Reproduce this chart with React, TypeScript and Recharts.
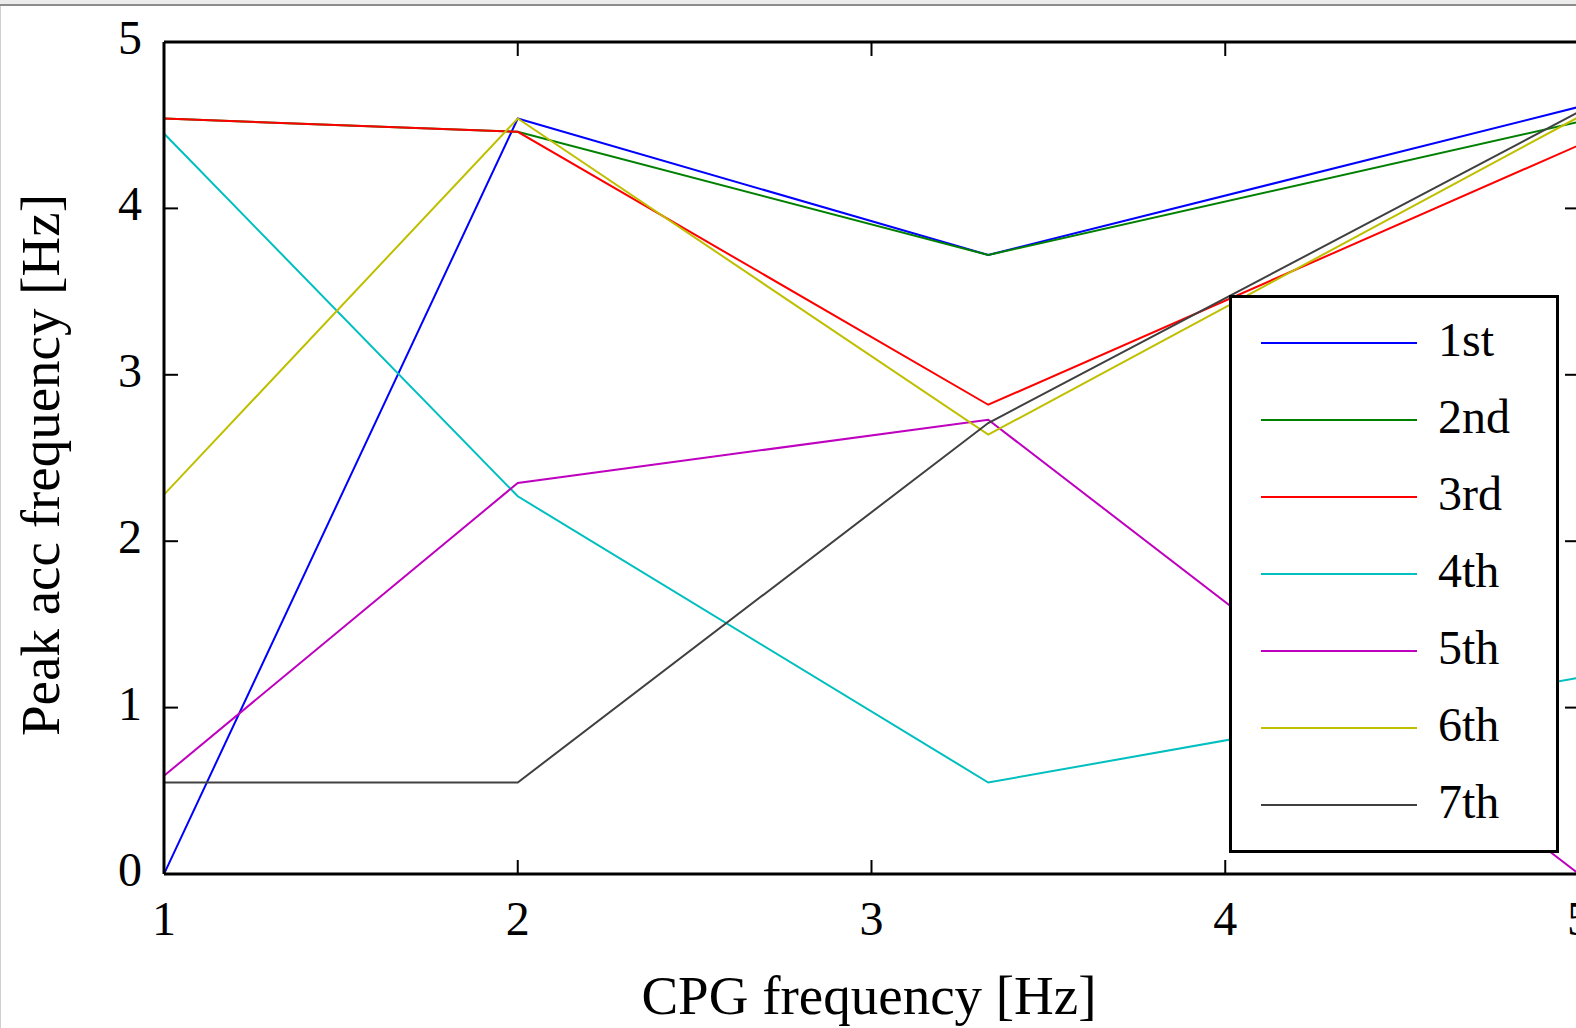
import React from 'react';
import {LineChart, Line, XAxis, YAxis, Legend} from 'recharts';

// CPG frequency (Hz) at which the peaks were measured
const cpgFreq = [1, 2, 3.33, 5];

const first = [0, 4.54, 3.72, 4.61];
const second = [4.54, 4.46, 3.72, 4.52];
const third = [4.54, 4.46, 2.82, 4.38];
const fourth = [4.45, 2.27, 0.55, 1.18];
const fifth = [0.59, 2.35, 2.73, 0];
const sixth = [2.28, 4.54, 2.64, 4.55];
const seventh = [0.55, 0.55, 2.71, 4.58];

const xTicks = [1, 2, 3, 4, 5];
const yTicks = [0, 1, 2, 3, 4, 5];

const seriesNames = ['1st', '2nd', '3rd', '4th', '5th', '6th', '7th'];
const seriesValues = [first, second, third, fourth, fifth, sixth, seventh];
const seriesColors = ['#0000ff', '#008000', '#ff0000', '#00bfbf', '#bf00bf', '#bfbf00', '#404040'];

const data = cpgFreq.map((f, i) => {
  const row: any = {f};
  seriesNames.forEach((n, k) => { row[n] = seriesValues[k][i]; });
  return row;
});

const font = '"Liberation Serif", "Times New Roman", serif';
const tickLen = 14;

const BottomTick = ({x, y, payload}: any) => (
  <g>
    <line x1={x} y1={y} x2={x} y2={y - tickLen} stroke="#000" strokeWidth={2} />
    <text x={x} y={y + 61} textAnchor="middle" fontSize={48} fontFamily={font} fill="#000">
      {payload.value}
    </text>
  </g>
);

const LeftTick = ({x, y, payload}: any) => (
  <g>
    <line x1={x} y1={y} x2={x + tickLen} y2={y} stroke="#000" strokeWidth={2} />
    <text x={x - 22} y={y + 12} textAnchor="end" fontSize={48} fontFamily={font} fill="#000">
      {payload.value}
    </text>
  </g>
);

const TopTick = ({x, y}: any) => (
  <line x1={x} y1={y} x2={x} y2={y + tickLen} stroke="#000" strokeWidth={2} />
);

const RightTick = ({x, y}: any) => (
  <line x1={x} y1={y} x2={x - tickLen} y2={y} stroke="#000" strokeWidth={2} />
);

const LegendBox = ({payload}: any) => (
  <svg width={330} height={558} style={{display: 'block'}}>
    <rect x={1.5} y={1.5} width={327} height={555} fill="#fff" stroke="#000" strokeWidth={3} />
    {(payload || []).map((p: any, i: number) => (
      <g key={p.value}>
        <line x1={32} x2={188} y1={48 + i * 77} y2={48 + i * 77} stroke={p.color} strokeWidth={2} />
        <text x={209} y={61 + i * 77} fontSize={48} fontFamily={font} fill="#000">{p.value}</text>
      </g>
    ))}
  </svg>
);

const axisLine = {stroke: '#000', strokeWidth: 3};

export default function App() {
  return (
    <div style={{position: 'fixed', left: 0, top: 0, width: 1576, height: 1028, overflow: 'hidden', background: '#fff'}}>
      <div style={{position: 'absolute', left: 0, top: 0, width: 1576, height: 4, background: '#ececec'}} />
      <div style={{position: 'absolute', left: 0, top: 4, width: 1576, height: 2, background: '#8c8c8c'}} />
      <div style={{position: 'absolute', left: 0, top: 6, width: 1, height: 1022, background: '#d0d0d0'}} />
      <div style={{position: 'absolute', left: 0, top: 0}}>
        <LineChart width={1600} height={1028} data={data} margin={{top: 41, right: 20, bottom: 0, left: 0}}>
          <XAxis dataKey="f" type="number" domain={[1, 5]} ticks={xTicks} allowDataOverflow
            height={154} axisLine={axisLine} tickLine={false} tickSize={0} tickMargin={0}
            tick={<BottomTick />} interval={0} />
          <XAxis xAxisId="top" dataKey="f" orientation="top" type="number" domain={[1, 5]} ticks={xTicks}
            allowDataOverflow height={1} axisLine={axisLine} tickLine={false} tickSize={0}
            tickMargin={0} tick={<TopTick />} interval={0} />
          <YAxis type="number" domain={[0, 5]} ticks={yTicks} allowDataOverflow width={164}
            axisLine={axisLine} tickLine={false} tickSize={0} tickMargin={0} tick={<LeftTick />} interval={0} />
          <YAxis yAxisId="right" orientation="right" type="number" domain={[0, 5]} ticks={yTicks}
            allowDataOverflow width={1} axisLine={axisLine} tickLine={false} tickSize={0}
            tickMargin={0} tick={<RightTick />} interval={0} />
          {seriesNames.map((n, k) => (
            <Line key={n} dataKey={n} name={n} type="linear" stroke={seriesColors[k]} strokeWidth={2}
              dot={false} activeDot={false} isAnimationActive={false} />
          ))}
          <Legend layout="vertical" align="center" verticalAlign="middle" content={<LegendBox />}
            wrapperStyle={{left: 1229, top: 295, width: 330, height: 558}} />
          <text x={869} y={1014} textAnchor="middle" fontSize={55} fontFamily={font} fill="#000">
            CPG frequency [Hz]
          </text>
          <text x={59} y={465} textAnchor="middle" fontSize={55} fontFamily={font} fill="#000"
            transform="rotate(-90, 59, 465)">
            Peak acc frequency [Hz]
          </text>
        </LineChart>
      </div>
    </div>
  );
}
